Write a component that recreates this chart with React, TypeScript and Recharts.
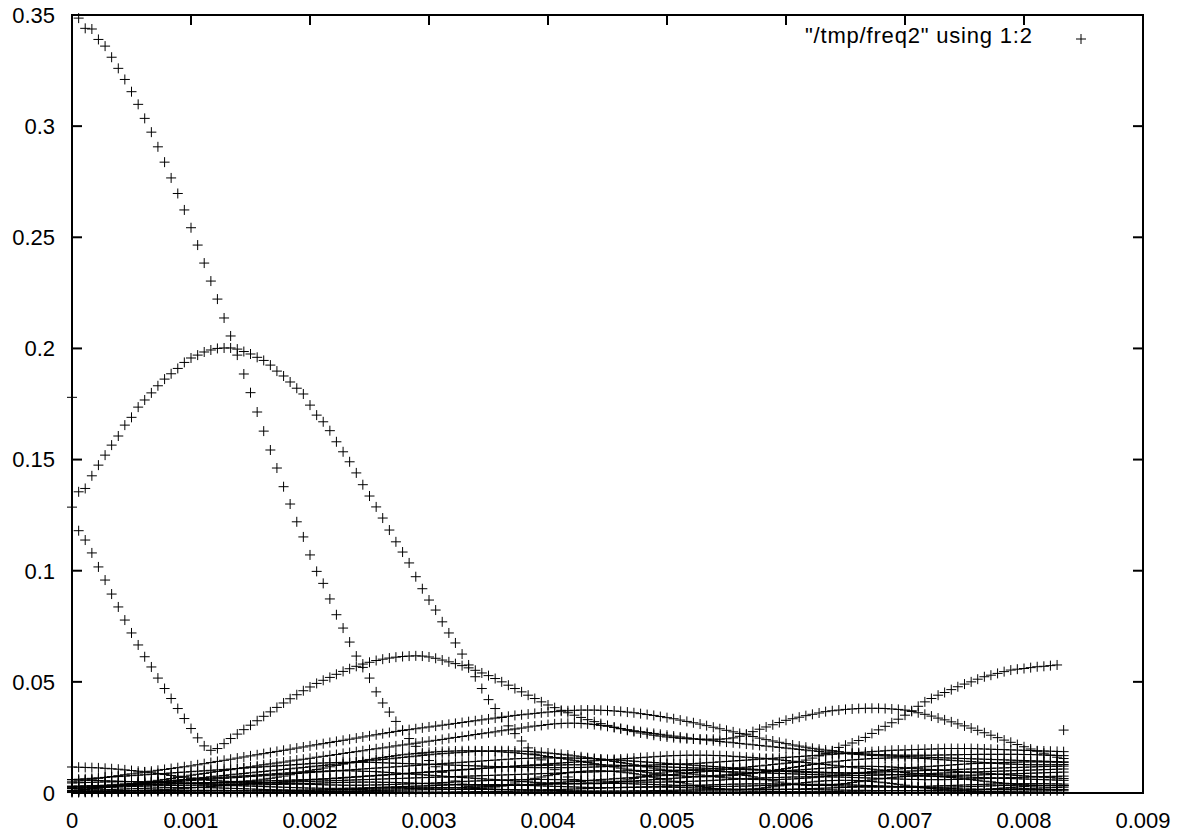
import { ScatterChart, Scatter, XAxis, YAxis, Legend, ReferenceArea } from 'recharts';

// sample instants of the frames, in microseconds
const sampleTimesUs = [
  0, 56, 111, 167, 222, 278, 333, 389, 444, 500, 556, 611, 667, 722, 778, 833, 889, 944,
  1000, 1056, 1111, 1167, 1222, 1278, 1333, 1389, 1444, 1500, 1556, 1611, 1667, 1722, 1778, 1833, 1889, 1944,
  2000, 2056, 2111, 2167, 2222, 2278, 2333, 2389, 2444, 2500, 2556, 2611, 2667, 2722, 2778, 2833, 2889, 2944,
  3000, 3056, 3111, 3167, 3222, 3278, 3333, 3389, 3444, 3500, 3556, 3611, 3667, 3722, 3778, 3833, 3889, 3944,
  4000, 4056, 4111, 4167, 4222, 4278, 4333, 4389, 4444, 4500, 4556, 4611, 4667, 4722, 4778, 4833, 4889, 4944,
  5000, 5056, 5111, 5167, 5222, 5278, 5333, 5389, 5444, 5500, 5556, 5611, 5667, 5722, 5778, 5833, 5889, 5944,
  6000, 6056, 6111, 6167, 6222, 6278, 6333, 6389, 6444, 6500, 6556, 6611, 6667, 6722, 6778, 6833, 6889, 6944,
  7000, 7056, 7111, 7167, 7222, 7278, 7333, 7389, 7444, 7500, 7556, 7611, 7667, 7722, 7778, 7833, 7889, 7944,
  8000, 8056, 8111, 8167, 8222, 8278, 8333,
];

// magnitudes per bin, in units of 1e-4
const binA = [
  1780, 3486, 3440, 3437, 3390, 3360, 3310, 3260, 3210, 3155,
  3098, 3035, 2973, 2907, 2838, 2767, 2697, 2623, 2543, 2465,
  2384, 2303, 2222, 2137, 2056, 1970, 1885, 1801, 1714, 1628,
  1543, 1462, 1378, 1300, 1220, 1152, 1071, 997, 943, 873,
  802, 742, 679, 616, 565, 517, 455, 405, 364, 322,
  282, 245, 210, 176, 146, 118, 93, 72, 54, 40,
  30, 24, 22, 23, 27, 32, 38, 45, 52, 59,
  66, 72, 78, 83, 88, 92, 95, 97, 99, 100,
  100, 99, 97, 94, 91, 87, 82, 77, 71, 65,
  59, 53, 47, 41, 35, 30, 25, 21, 18, 16,
  15, 15, 16, 18, 21, 24, 28, 32, 36, 40,
  44, 47, 50, 53, 55, 56, 57, 57, 57, 56,
  54, 52, 49, 46, 43, 39, 35, 31, 27, 23,
  20, 17, 15, 13, 12, 12, 13, 14, 16, 18,
  20, 23, 25, 27, 29, 31, 32, 33, 34, 34,
  34,
];

const binB = [
  1286, 1355, 1370, 1427, 1475, 1520, 1565, 1606, 1655, 1690,
  1736, 1768, 1800, 1832, 1862, 1886, 1910, 1937, 1957, 1970,
  1984, 1993, 2000, 2002, 2002, 1997, 1986, 1975, 1960, 1946,
  1925, 1898, 1876, 1849, 1821, 1795, 1745, 1700, 1670, 1630,
  1580, 1535, 1490, 1440, 1387, 1336, 1287, 1237, 1183, 1130,
  1084, 1035, 973, 919, 868, 823, 770, 720, 675, 625,
  576, 523, 470, 420, 380, 340, 302, 267, 234, 203,
  175, 149, 126, 105, 87, 72, 60, 51, 45, 42,
  42, 44, 48, 53, 59, 65, 72, 78, 84, 90,
  95, 99, 102, 104, 105, 105, 104, 102, 99, 95,
  90, 85, 79, 73, 67, 61, 55, 49, 44, 40,
  37, 35, 34, 34, 35, 37, 40, 43, 47, 51,
  55, 59, 63, 66, 69, 72, 74, 75, 76, 76,
  75, 74, 72, 70, 67, 64, 60, 57, 53, 50,
  47, 44, 41, 39, 37, 35, 34, 33, 33, 33,
  33,
];

const binE = [
  30, 1180, 1138, 1080, 1017, 958, 895, 837, 778, 720,
  666, 613, 567, 517, 470, 425, 380, 335, 290, 248,
  212, 192, 200, 222, 245, 265, 285, 305, 325, 345,
  365, 385, 405, 424, 442, 460, 477, 493, 507, 520,
  534, 547, 559, 570, 580, 588, 596, 602, 607, 611,
  614, 616, 617, 616, 612, 606, 598, 590, 582, 573,
  563, 552, 540, 528, 515, 500, 485, 470, 455, 440,
  425, 410, 396, 384, 372, 361, 350, 340, 330, 321,
  312, 304, 296, 289, 282, 276, 270, 265, 260, 256,
  252, 249, 246, 244, 243, 242, 242, 242, 242, 244,
  248, 255, 265, 276, 287, 297, 307, 317, 327, 334,
  341, 348, 354, 360, 366, 370, 373, 376, 378, 380,
  381, 381, 381, 380, 378, 376, 373, 367, 361, 354,
  346, 337, 329, 320, 311, 302, 292, 282, 271, 260,
  249, 238, 228, 218, 208, 198, 188, 179, 170, 161,
  155,
];

const binD = [
  8, 8, 9, 9, 10, 10, 10, 11, 11, 11,
  12, 12, 12, 12, 12, 12, 12, 12, 11, 11,
  11, 10, 10, 10, 9, 9, 9, 9, 9, 9,
  10, 10, 10, 11, 11, 12, 12, 13, 13, 14,
  14, 15, 15, 16, 16, 17, 17, 18, 18, 19,
  19, 20, 20, 21, 21, 22, 22, 23, 24, 25,
  26, 27, 28, 29, 31, 32, 34, 35, 37, 38,
  40, 42, 44, 46, 48, 50, 52, 54, 56, 58,
  60, 62, 64, 66, 68, 70, 72, 74, 76, 78,
  80, 83, 86, 89, 92, 95, 98, 101, 104, 107,
  110, 113, 116, 119, 122, 125, 128, 131, 134, 137,
  140, 148, 157, 167, 178, 190, 205, 215, 225, 236,
  250, 268, 284, 300, 316, 332, 350, 370, 390, 410,
  425, 440, 452, 465, 478, 490, 500, 512, 523, 530,
  538, 546, 553, 557, 560, 564, 568, 570, 573, 576,
  283,
];

const binF = [
  50, 54, 58, 62, 66, 70, 74, 78, 82, 86,
  90, 94, 98, 102, 106, 110, 114, 118, 122, 127,
  132, 137, 142, 147, 152, 157, 162, 167, 172, 177,
  182, 187, 192, 197, 202, 207, 212, 217, 222, 227,
  232, 237, 242, 247, 252, 257, 262, 267, 272, 277,
  281, 285, 289, 293, 297, 301, 305, 309, 313, 317,
  321, 325, 329, 333, 337, 341, 345, 349, 352, 355,
  358, 361, 364, 366, 368, 370, 372, 373, 373, 373,
  372, 371, 369, 367, 364, 361, 357, 353, 349, 344,
  339, 334, 328, 322, 316, 310, 303, 296, 289, 282,
  275, 268, 261, 254, 247, 240, 234, 228, 222, 216,
  211, 206, 201, 197, 193, 189, 186, 183, 180, 178,
  176, 174, 173, 172, 171, 170, 170, 170, 170, 170,
  170, 171, 171, 172, 172, 173, 173, 174, 174, 174,
  174, 174, 174, 174, 173, 173, 172, 171, 170, 169,
  168,
];

const binP1 = [
  117, 116, 115, 114, 113, 111, 109, 107, 104, 101,
  98, 95, 91, 87, 83, 79, 75, 71, 67, 63,
  60, 57, 55, 53, 52, 52, 53, 55, 58, 62,
  66, 71, 76, 82, 88, 94, 100, 106, 112, 118,
  124, 130, 136, 141, 146, 151, 156, 160, 164, 168,
  172, 175, 178, 181, 183, 185, 187, 188, 189, 190,
  190, 190, 189, 188, 187, 185, 183, 181, 178, 175,
  172, 168, 164, 160, 156, 152, 147, 142, 137, 132,
  127, 122, 117, 112, 107, 102, 97, 93, 89, 85,
  82, 79, 77, 75, 74, 73, 73, 74, 75, 77,
  79, 82, 85, 89, 93, 97, 101, 106, 110, 115,
  119, 124, 128, 132, 136, 140, 143, 146, 149, 151,
  153, 155, 156, 157, 158, 158, 158, 157, 156, 155,
  153, 151, 149, 147, 145, 143, 141, 139, 137, 135,
  133, 131, 130, 129, 128, 127, 127, 127, 127, 127,
  128,
];

const binP3 = [
  10, 13, 16, 19, 22, 25, 29, 33, 37, 41,
  45, 49, 53, 57, 61, 65, 70, 75, 80, 84,
  88, 93, 97, 101, 105, 110, 114, 118, 122, 127,
  131, 135, 139, 144, 148, 152, 156, 161, 165, 169,
  173, 178, 182, 186, 190, 195, 199, 203, 207, 212,
  216, 220, 224, 229, 233, 237, 241, 246, 250, 254,
  258, 263, 267, 271, 275, 280, 284, 288, 292, 297,
  301, 304, 308, 311, 313, 314, 314, 313, 311, 308,
  304, 300, 295, 290, 285, 280, 276, 272, 268, 264,
  260, 256, 252, 248, 244, 241, 238, 235, 232, 229,
  226, 223, 220, 217, 214, 211, 208, 205, 202, 199,
  196, 193, 190, 187, 184, 181, 179, 177, 175, 173,
  171, 169, 168, 167, 166, 165, 164, 163, 162, 161,
  160, 159, 158, 157, 156, 155, 154, 153, 152, 151,
  150, 149, 148, 147, 146, 145, 144, 143, 142, 141,
  140,
];

const binP4 = [
  10, 13, 16, 19, 22, 25, 28, 31, 34, 37,
  40, 43, 46, 49, 52, 55, 58, 61, 64, 67,
  70, 73, 76, 79, 82, 85, 88, 91, 94, 97,
  100, 103, 106, 109, 112, 115, 118, 121, 124, 127,
  130, 133, 136, 139, 142, 145, 148, 151, 154, 157,
  160, 163, 166, 169, 172, 175, 177, 179, 181, 183,
  185, 187, 188, 189, 190, 190, 190, 189, 188, 187,
  185, 183, 180, 177, 174, 171, 167, 163, 159, 155,
  151, 147, 142, 137, 132, 127, 122, 117, 112, 107,
  102, 97, 93, 89, 85, 81, 77, 74, 71, 68,
  66, 64, 62, 61, 60, 60, 60, 61, 62, 63,
  65, 67, 69, 72, 75, 78, 81, 84, 87, 90,
  93, 96, 99, 102, 105, 108, 111, 114, 116, 118,
  120, 122, 124, 126, 128, 130, 132, 133, 134, 135,
  136, 137, 138, 139, 140, 140, 140, 140, 139, 139,
  138,
];

const binP5 = [
  5, 5, 6, 6, 7, 7, 8, 8, 9, 10,
  11, 12, 13, 14, 15, 17, 19, 21, 23, 25,
  27, 29, 31, 33, 35, 37, 39, 41, 43, 45,
  47, 49, 51, 53, 55, 57, 59, 61, 63, 65,
  67, 69, 71, 73, 75, 77, 79, 81, 83, 85,
  87, 89, 91, 93, 95, 97, 99, 101, 103, 105,
  107, 109, 111, 113, 115, 117, 119, 121, 123, 125,
  127, 129, 131, 133, 135, 137, 139, 141, 143, 145,
  147, 149, 151, 153, 155, 157, 159, 161, 163, 165,
  167, 168, 169, 170, 170, 170, 170, 169, 168, 167,
  165, 163, 161, 159, 157, 155, 152, 149, 146, 143,
  140, 137, 134, 131, 128, 125, 122, 119, 116, 113,
  110, 107, 104, 101, 98, 95, 92, 89, 87, 85,
  83, 82, 81, 80, 80, 80, 80, 81, 82, 83,
  84, 85, 86, 87, 88, 89, 90, 91, 92, 93,
  94,
];

const binP6 = [
  30, 31, 32, 33, 34, 35, 37, 39, 41, 43,
  45, 47, 49, 51, 53, 55, 57, 59, 61, 63,
  65, 67, 69, 71, 73, 75, 77, 79, 81, 83,
  85, 87, 89, 91, 93, 95, 96, 97, 98, 99,
  100, 100, 100, 99, 98, 97, 96, 94, 92, 90,
  88, 86, 84, 82, 80, 78, 76, 74, 72, 70,
  68, 66, 64, 62, 60, 58, 56, 54, 52, 50,
  48, 46, 44, 43, 42, 41, 41, 41, 42, 43,
  44, 46, 48, 50, 52, 54, 56, 58, 60, 62,
  64, 66, 68, 70, 72, 74, 76, 78, 80, 82,
  84, 86, 88, 90, 92, 94, 96, 98, 100, 102,
  104, 106, 108, 110, 112, 114, 116, 118, 119, 120,
  120, 120, 119, 118, 117, 115, 113, 111, 109, 107,
  105, 103, 101, 99, 97, 95, 93, 91, 89, 87,
  85, 83, 81, 79, 77, 75, 73, 71, 69, 67,
  65,
];

const binP7 = [
  60, 59, 58, 57, 56, 55, 54, 53, 52, 51,
  50, 49, 48, 47, 46, 45, 44, 43, 42, 41,
  40, 40, 40, 40, 41, 41, 42, 43, 44, 45,
  46, 47, 48, 49, 50, 51, 52, 53, 54, 55,
  56, 57, 58, 59, 60, 61, 62, 63, 64, 65,
  66, 67, 68, 69, 70, 71, 72, 73, 74, 75,
  76, 77, 78, 79, 80, 81, 82, 83, 84, 85,
  86, 87, 88, 89, 90, 91, 92, 93, 94, 95,
  96, 97, 98, 99, 100, 100, 101, 101, 102, 102,
  102, 102, 102, 101, 101, 100, 99, 98, 97, 96,
  95, 94, 93, 92, 91, 90, 89, 88, 87, 86,
  85, 84, 83, 82, 81, 80, 80, 79, 79, 79,
  79, 80, 80, 81, 82, 83, 84, 85, 86, 87,
  88, 89, 90, 91, 92, 93, 94, 95, 96, 97,
  98, 99, 100, 101, 102, 103, 104, 105, 106, 107,
  108,
];

const binM1 = [
  20, 22, 24, 26, 28, 30, 32, 34, 36, 38,
  40, 42, 44, 46, 48, 50, 52, 54, 56, 58,
  60, 62, 64, 66, 68, 70, 72, 74, 76, 78,
  80, 82, 84, 86, 88, 90, 92, 94, 96, 98,
  100, 102, 104, 106, 108, 110, 112, 114, 116, 118,
  120, 122, 124, 126, 128, 130, 132, 134, 136, 138,
  140, 142, 144, 146, 148, 150, 152, 154, 155, 156,
  157, 158, 158, 158, 158, 158, 157, 156, 155, 154,
  153, 151, 149, 147, 145, 143, 141, 139, 137, 135,
  133, 131, 129, 127, 125, 123, 121, 119, 117, 115,
  113, 111, 109, 107, 105, 103, 101, 99, 97, 95,
  94, 93, 92, 91, 90, 90, 90, 90, 90, 91,
  92, 93, 94, 95, 96, 97, 98, 99, 100, 101,
  102, 103, 104, 105, 106, 107, 108, 109, 110, 111,
  112, 113, 114, 115, 116, 117, 118, 119, 120, 120,
  121,
];

const binM2 = [
  60, 62, 64, 66, 68, 70, 72, 74, 76, 78,
  80, 82, 84, 86, 88, 90, 92, 94, 96, 98,
  100, 102, 104, 106, 108, 110, 112, 114, 116, 118,
  120, 122, 124, 126, 128, 130, 132, 134, 135, 136,
  137, 138, 138, 138, 138, 138, 137, 136, 135, 134,
  133, 132, 131, 130, 129, 128, 127, 126, 125, 124,
  123, 122, 121, 120, 119, 118, 117, 116, 115, 115,
  114, 114, 114, 114, 114, 114, 115, 115, 116, 117,
  118, 119, 120, 121, 122, 123, 124, 125, 126, 127,
  128, 129, 130, 131, 132, 134, 136, 138, 140, 142,
  144, 146, 148, 150, 152, 154, 156, 158, 160, 162,
  164, 166, 168, 170, 172, 174, 176, 178, 180, 182,
  184, 186, 188, 190, 192, 193, 194, 195, 196, 197,
  198, 199, 200, 200, 200, 200, 200, 199, 198, 197,
  196, 195, 194, 193, 192, 191, 190, 189, 188, 187,
  186,
];

const binM3 = [
  25, 26, 27, 28, 29, 30, 31, 32, 33, 34,
  35, 36, 37, 38, 39, 40, 41, 42, 43, 44,
  45, 46, 47, 48, 49, 50, 51, 52, 53, 54,
  55, 56, 57, 58, 59, 60, 61, 62, 63, 64,
  66, 68, 70, 72, 74, 76, 78, 80, 82, 84,
  86, 88, 90, 92, 94, 96, 98, 100, 102, 104,
  106, 108, 110, 112, 114, 116, 118, 120, 121, 122,
  123, 124, 125, 126, 126, 127, 127, 127, 127, 127,
  126, 126, 125, 124, 123, 122, 121, 120, 119, 118,
  117, 116, 115, 114, 113, 112, 111, 110, 109, 108,
  107, 106, 105, 104, 103, 102, 101, 100, 99, 98,
  97, 96, 95, 94, 93, 92, 91, 90, 89, 88,
  87, 86, 85, 84, 83, 82, 81, 80, 79, 78,
  77, 76, 75, 74, 73, 72, 71, 70, 69, 68,
  67, 66, 65, 64, 63, 62, 61, 60, 59, 58,
  57,
];

const binL1 = [
  5, 5, 6, 6, 7, 7, 8, 8, 9, 9,
  10, 10, 10, 11, 11, 11, 12, 12, 12, 12,
  12, 12, 12, 12, 11, 11, 11, 10, 10, 10,
  9, 9, 9, 8, 8, 8, 8, 8, 8, 8,
  9, 9, 9, 10, 10, 11, 11, 12, 12, 13,
  13, 14, 14, 15, 15, 15, 16, 16, 16, 16,
  16, 16, 16, 16, 15, 15, 15, 14, 14, 13,
  13, 12, 12, 11, 11, 10, 10, 10, 9, 9,
  9, 9, 9, 9, 9, 10, 10, 10, 11, 11,
  12, 12, 13, 13, 14, 14, 15, 15, 16, 16,
  16, 17, 17, 17, 17, 17, 17, 17, 17, 16,
  16, 16, 15, 15, 14, 14, 13, 13, 12, 12,
  12, 11, 11, 11, 11, 11, 11, 11, 11, 12,
  12, 12, 13, 13, 13, 14, 14, 14, 15, 15,
  15, 15, 16, 16, 16, 16, 16, 16, 16, 16,
  16,
];

const binL2 = [
  20, 21, 22, 23, 24, 25, 26, 27, 28, 29,
  30, 31, 32, 33, 33, 34, 34, 35, 35, 35,
  35, 35, 34, 34, 33, 33, 32, 31, 30, 29,
  28, 27, 26, 25, 24, 23, 22, 22, 21, 21,
  21, 21, 22, 22, 23, 24, 25, 26, 27, 28,
  29, 30, 31, 32, 33, 34, 35, 36, 37, 37,
  38, 38, 38, 38, 38, 37, 37, 36, 35, 34,
  33, 32, 31, 30, 29, 28, 27, 26, 25, 25,
  24, 24, 24, 24, 25, 25, 26, 27, 28, 29,
  30, 31, 32, 33, 34, 35, 36, 37, 38, 39,
  40, 40, 41, 41, 41, 41, 41, 40, 40, 39,
  38, 37, 36, 35, 34, 33, 32, 31, 30, 29,
  28, 28, 27, 27, 27, 27, 28, 28, 29, 30,
  31, 32, 33, 34, 35, 36, 37, 38, 39, 40,
  41, 41, 42, 42, 42, 42, 42, 42, 41, 41,
  40,
];

const binL3 = [
  12, 12, 13, 13, 14, 15, 16, 17, 18, 19,
  20, 21, 22, 23, 24, 24, 25, 25, 25, 25,
  24, 24, 23, 22, 21, 20, 19, 18, 17, 16,
  15, 14, 14, 13, 13, 13, 13, 14, 14, 15,
  16, 17, 18, 19, 20, 21, 22, 23, 24, 25,
  25, 26, 26, 26, 26, 25, 25, 24, 23, 22,
  21, 20, 19, 18, 17, 16, 15, 15, 14, 14,
  14, 14, 15, 15, 16, 17, 18, 19, 20, 21,
  22, 23, 24, 25, 26, 26, 27, 27, 27, 27,
  26, 26, 25, 24, 23, 22, 21, 20, 19, 18,
  17, 16, 16, 15, 15, 15, 15, 16, 16, 17,
  18, 19, 20, 21, 22, 23, 24, 25, 26, 27,
  27, 28, 28, 28, 28, 27, 27, 26, 25, 24,
  23, 22, 21, 20, 19, 18, 18, 17, 17, 17,
  17, 18, 18, 19, 20, 21, 22, 23, 24, 25,
  26,
];

const binL4 = [
  2, 2, 3, 3, 3, 4, 4, 4, 5, 5,
  5, 6, 6, 6, 6, 6, 6, 6, 5, 5,
  5, 4, 4, 4, 3, 3, 3, 3, 3, 3,
  4, 4, 4, 5, 5, 5, 6, 6, 6, 7,
  7, 7, 7, 7, 7, 7, 6, 6, 6, 5,
  5, 5, 4, 4, 4, 4, 4, 4, 5, 5,
  5, 6, 6, 6, 7, 7, 7, 8, 8, 8,
  8, 8, 8, 8, 7, 7, 7, 6, 6, 6,
  5, 5, 5, 5, 5, 5, 6, 6, 6, 7,
  7, 7, 8, 8, 8, 9, 9, 9, 9, 9,
  9, 9, 8, 8, 8, 7, 7, 7, 6, 6,
  6, 6, 6, 6, 7, 7, 7, 8, 8, 8,
  9, 9, 9, 10, 10, 10, 10, 10, 10, 10,
  9, 9, 9, 8, 8, 8, 7, 7, 7, 7,
  7, 7, 8, 8, 8, 9, 9, 9, 10, 10,
  10,
];

const binL5 = [
  30, 30, 31, 31, 32, 32, 33, 34, 35, 36,
  37, 38, 39, 40, 41, 42, 43, 44, 45, 46,
  47, 47, 48, 48, 48, 48, 48, 47, 47, 46,
  45, 44, 43, 42, 41, 40, 39, 38, 37, 36,
  36, 35, 35, 35, 35, 36, 36, 37, 38, 39,
  40, 41, 42, 43, 44, 45, 47, 48, 50, 51,
  53, 54, 55, 56, 57, 58, 59, 60, 60, 61,
  61, 61, 61, 60, 60, 59, 58, 57, 56, 55,
  54, 53, 52, 51, 50, 50, 49, 49, 49, 49,
  50, 50, 51, 52, 53, 54, 55, 57, 58, 60,
  61, 63, 64, 66, 67, 68, 69, 70, 71, 72,
  72, 73, 73, 73, 73, 72, 72, 71, 70, 69,
  68, 67, 66, 65, 64, 63, 62, 61, 61, 60,
  60, 60, 60, 61, 61, 62, 63, 64, 65, 66,
  67, 68, 69, 70, 71, 72, 73, 74, 75, 75,
  76,
];

const binL6 = [
  45, 46, 47, 48, 49, 50, 50, 51, 51, 51,
  51, 50, 50, 49, 48, 47, 46, 45, 44, 43,
  42, 41, 40, 39, 38, 38, 37, 37, 37, 37,
  38, 38, 39, 40, 41, 42, 43, 44, 45, 46,
  47, 48, 48, 49, 49, 49, 49, 48, 48, 47,
  46, 45, 44, 43, 42, 41, 40, 39, 38, 37,
  36, 35, 35, 34, 34, 34, 34, 35, 35, 36,
  37, 38, 39, 40, 41, 42, 43, 43, 44, 44,
  44, 44, 43, 43, 42, 41, 40, 39, 38, 37,
  36, 35, 34, 33, 32, 31, 31, 30, 30, 30,
  30, 31, 31, 32, 33, 34, 35, 36, 37, 38,
  38, 39, 39, 39, 39, 38, 38, 37, 36, 35,
  34, 33, 32, 31, 30, 29, 28, 27, 27, 26,
  26, 26, 26, 27, 27, 28, 29, 30, 31, 32,
  33, 34, 34, 35, 35, 35, 35, 34, 34, 33,
  33,
];

const xTicks = [0, 0.001, 0.002, 0.003, 0.004, 0.005, 0.006, 0.007, 0.008, 0.009];
const xTickLabels = ['0', '0.001', '0.002', '0.003', '0.004', '0.005', '0.006', '0.007', '0.008', '0.009'];
const yTicks = [0, 0.05, 0.1, 0.15, 0.2, 0.25, 0.3, 0.35];
const yTickLabels = ['0', '0.05', '0.1', '0.15', '0.2', '0.25', '0.3', '0.35'];

const legendLabel = '"/tmp/freq2" using 1:2';

const bins = [
  binA, binB, binE, binD, binF, binP1, binP3, binP4, binP5, binP6, binP7,
  binM1, binM2, binM3, binL1, binL2, binL3, binL4, binL5, binL6,
];

const CHART_W = 1190;
const CHART_H = 835;
const MARGIN = { top: 15, right: 47, bottom: 12, left: 12 };
const Y_AXIS_W = 60;
const X_AXIS_H = 30;
const PLOT_TOP = MARGIN.top;
const PLOT_BOTTOM = CHART_H - MARGIN.bottom - X_AXIS_H;
const PLOT_LEFT = MARGIN.left + Y_AXIS_W;
const PLOT_RIGHT = CHART_W - MARGIN.right;
const FONT = '"Liberation Sans", Arial, sans-serif';
const TICK_LEN = 10;

const toPoints = (vals: number[]) =>
  vals
    .map((v, i) => ({ x: sampleTimesUs[i] / 1e6, y: v / 1e4 }))
    .filter((p) => Number.isFinite(p.x));

const Cross = (props: any) => {
  const { cx, cy } = props;
  if (cx == null || cy == null) return null;
  return (
    <path
      d={`M${cx - 5},${cy}H${cx + 5}M${cx},${cy - 5}V${cy + 5}`}
      stroke="#000"
      strokeWidth={1}
      fill="none"
    />
  );
};

const XTick = (props: any) => {
  const { x, y, index } = props;
  return (
    <g>
      <line x1={x} x2={x} y1={PLOT_BOTTOM} y2={PLOT_BOTTOM - TICK_LEN} stroke="#000" strokeWidth={2} />
      <line x1={x} x2={x} y1={PLOT_TOP} y2={PLOT_TOP + TICK_LEN} stroke="#000" strokeWidth={2} />
      <text x={x} y={y} dy="0.71em" textAnchor="middle" fontFamily={FONT} fontSize={22} fill="#000">
        {xTickLabels[index]}
      </text>
    </g>
  );
};

const YTick = (props: any) => {
  const { x, y, index } = props;
  return (
    <g>
      <line x1={PLOT_LEFT} x2={PLOT_LEFT + TICK_LEN} y1={y} y2={y} stroke="#000" strokeWidth={2} />
      <line x1={PLOT_RIGHT - TICK_LEN} x2={PLOT_RIGHT} y1={y} y2={y} stroke="#000" strokeWidth={2} />
      <text x={x} y={y} dy="0.355em" textAnchor="end" fontFamily={FONT} fontSize={22} fill="#000">
        {yTickLabels[index]}
      </text>
    </g>
  );
};

const LegendBox = () => (
  <svg width={300} height={30} style={{ display: 'block' }}>
    <text
      x={5}
      y={19}
      textLength={227}
      lengthAdjust="spacing"
      fontFamily={FONT}
      fontSize={22}
      fill="#000"
    >
      {legendLabel}
    </text>
    <path d="M276,15H286M281,10V20" stroke="#000" strokeWidth={1} />
  </svg>
);

const App = () => {
  return (
    <div style={{ position: 'absolute', left: 0, top: 0, background: '#fff' }}>
      <ScatterChart width={CHART_W} height={CHART_H} margin={MARGIN}>
        <XAxis
          type="number"
          dataKey="x"
          domain={[0, 0.009]}
          ticks={xTicks}
          interval={0}
          height={X_AXIS_H}
          tickSize={0}
          tickMargin={19}
          axisLine={false}
          tickLine={false}
          tick={<XTick />}
        />
        <YAxis
          type="number"
          dataKey="y"
          domain={[0, 0.35]}
          ticks={yTicks}
          interval={0}
          width={Y_AXIS_W}
          tickSize={0}
          tickMargin={17}
          axisLine={false}
          tickLine={false}
          tick={<YTick />}
        />
        <ReferenceArea x1={0} x2={0.009} y1={0} y2={0.35} fill="none" stroke="#000" strokeWidth={2} />
        {bins.map((vals, k) => (
          <Scatter
            key={k}
            data={toPoints(vals)}
            shape={<Cross />}
            isAnimationActive={false}
            legendType="none"
          />
        ))}
        <Legend
          layout="vertical"
          align="center"
          verticalAlign="middle"
          wrapperStyle={{ left: 800, top: 24, width: 300, height: 30 }}
          content={() => <LegendBox />}
        />
      </ScatterChart>
    </div>
  );
};

export default App;
